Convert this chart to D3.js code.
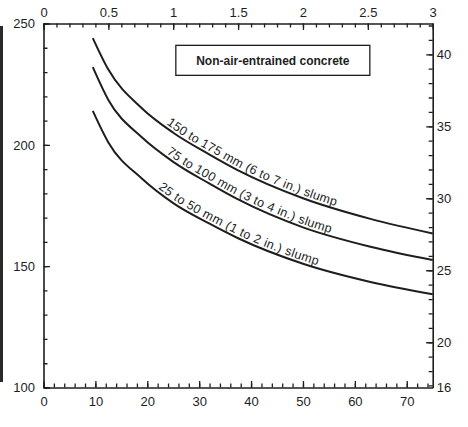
<!DOCTYPE html>
<html>
<head>
<meta charset="utf-8">
<script src="https://cdn.jsdelivr.net/npm/d3@7"></script>
<style>
  html, body { margin: 0; padding: 0; background: #fff; }
  svg { display: block; }
</style>
</head>
<body>
<svg id="root" width="468" height="427"></svg>
<script>
// max aggregate size (mm) vs mixing water (kg/m3)
const sizesMm = [9.5, 12.5, 19, 25, 32, 37.5, 50, 63, 75];
const water150to175 = [244, 231, 215, 205, 196, 189.5, 178, 169.5, 163.5];
const water75to100 = [232, 218.5, 203, 193, 184, 177.5, 166, 158, 152.5];
const water25to50 = [214, 201, 186, 176, 167.5, 161.5, 151, 143.5, 138.4];

const curveLabels = [
    "150 to 175 mm (6 to 7 in.) slump",
    "75 to 100 mm (3 to 4 in.) slump",
    "25 to 50 mm (1 to 2 in.) slump",
];
// where each label starts / ends along the curve, in mm
const labelStartMm = [23.3, 23.3, 21.7];
const labelEndMm = [56.1, 55.1, 52.6];

const boxTitle = "Non-air-entrained concrete";

const bottomTicks = [0, 10, 20, 30, 40, 50, 60, 70];
const topTicks = [0, 0.5, 1, 1.5, 2, 2.5, 3];
const leftTicks = [100, 150, 200, 250];
const rightTicks = [200, 250, 300, 350, 400];
const kgToLb = 1.6856;

const main = () => {
    const svg = d3.select("#root");
    const font = "'Liberation Sans', Arial, Helvetica, sans-serif";
    const ink = "#1e1e1e";

    const plot = { left: 43.5, right: 432.7, top: 23.5, bottom: 387.5 };

    const x = d3.scaleLinear().domain([0, 75]).range([plot.left, plot.right]);
    const xTop = d3.scaleLinear().domain([0, 3]).range([plot.left, plot.right]);
    const y = d3.scaleLinear().domain([100, 250]).range([plot.bottom, plot.top]);
    const yRight = d3
        .scaleLinear()
        .domain([100 * kgToLb, 250 * kgToLb])
        .range([plot.bottom, plot.top]);

    // dark scan edge on the left
    svg.append("rect")
        .attr("x", 0)
        .attr("y", 26)
        .attr("width", 3)
        .attr("height", 356)
        .attr("fill", "#2a2a2a");

    svg.append("clipPath")
        .attr("id", "crop")
        .append("rect")
        .attr("x", 0)
        .attr("y", 0)
        .attr("width", 451.5)
        .attr("height", 427);

    const root = svg.append("g").attr("clip-path", "url(#crop)");

    const styleAxis = (g) => {
        g.attr("font-family", font).attr("font-size", 13);
        g.selectAll("line").attr("stroke", ink).attr("stroke-width", 1.3);
        g.selectAll("path").attr("stroke", ink).attr("stroke-width", 1.6);
        g.selectAll("text").attr("fill", ink);
    };

    const drawAxis = (axisFn, scale, minor, major, fmt, pos, pad) => {
        root.append("g")
            .attr("transform", pos)
            .call(axisFn(scale).tickValues(minor).tickSize(-4).tickSizeOuter(0).tickFormat(""))
            .call((g) => g.select(".domain").remove())
            .call(styleAxis);
        root.append("g")
            .attr("transform", pos)
            .call(
                axisFn(scale)
                    .tickValues(major)
                    .tickSize(-6.5)
                    .tickSizeOuter(0)
                    .tickPadding(pad)
                    .tickFormat(fmt)
            )
            .call(styleAxis);
    };

    // bottom: mm
    drawAxis(
        d3.axisBottom,
        x,
        d3.range(0, 75, 2),
        bottomTicks,
        d3.format("d"),
        `translate(0,${plot.bottom})`,
        9
    );
    // top: inches
    drawAxis(
        d3.axisTop,
        xTop,
        d3.range(0, 3.01, 0.1),
        topTicks,
        (d) => String(d),
        `translate(0,${plot.top})`,
        7
    );
    // left: kg/m3
    drawAxis(
        d3.axisLeft,
        y,
        d3.range(100, 251, 10),
        leftTicks,
        d3.format("d"),
        `translate(${plot.left},0)`,
        8.5
    );
    // right: lb/yd3
    drawAxis(
        d3.axisRight,
        yRight,
        d3.range(170, 421, 10),
        rightTicks,
        d3.format("d"),
        `translate(${plot.right},0)`,
        4
    );
    root.append("text")
        .attr("x", plot.right + 4)
        .attr("y", yRight(100 * kgToLb))
        .attr("dy", "0.32em")
        .attr("font-family", font)
        .attr("font-size", 13)
        .attr("fill", ink)
        .text(Math.round(100 * kgToLb));

    // title box
    const box = root.append("g").attr("transform", `translate(${x(25.5)},${y(241)})`);
    box.append("rect")
        .attr("width", 194)
        .attr("height", 30)
        .attr("fill", "#fff")
        .attr("stroke", ink)
        .attr("stroke-width", 1.3);
    box.append("text")
        .attr("x", 97)
        .attr("y", 15)
        .attr("dy", "0.35em")
        .attr("text-anchor", "middle")
        .attr("font-family", font)
        .attr("font-size", 12)
        .attr("font-weight", "bold")
        .attr("fill", ink)
        .text(boxTitle);

    // curves
    const series = [water150to175, water75to100, water25to50];
    const line = d3
        .line()
        .x((d) => x(d[0]))
        .y((d) => y(d[1]))
        .curve(d3.curveMonotoneX);

    series.forEach((vals, i) => {
        const pts = sizesMm.map((s, j) => [s, vals[j]]);
        const path = root
            .append("path")
            .attr("id", `curve${i}`)
            .attr("d", line(pts))
            .attr("fill", "none")
            .attr("stroke", ink)
            .attr("stroke-width", 2);

        const node = path.node();
        const total = node.getTotalLength();
        const lengthAtX = (px) => {
            let lo = 0, hi = total;
            for (let k = 0; k < 30; k++) {
                const mid = (lo + hi) / 2;
                if (node.getPointAtLength(mid).x < px) lo = mid;
                else hi = mid;
            }
            return lo;
        };
        const start = lengthAtX(x(labelStartMm[i]));
        const end = lengthAtX(x(labelEndMm[i]));

        root.append("text")
            .attr("font-family", font)
            .attr("font-size", 12.5)
            .attr("fill", ink)
            .attr("dy", -3)
            .append("textPath")
            .attr("href", `#curve${i}`)
            .attr("startOffset", start)
            .attr("textLength", end - start)
            .attr("lengthAdjust", "spacing")
            .text(curveLabels[i]);
    });
};

main();
</script>
</body>
</html>
